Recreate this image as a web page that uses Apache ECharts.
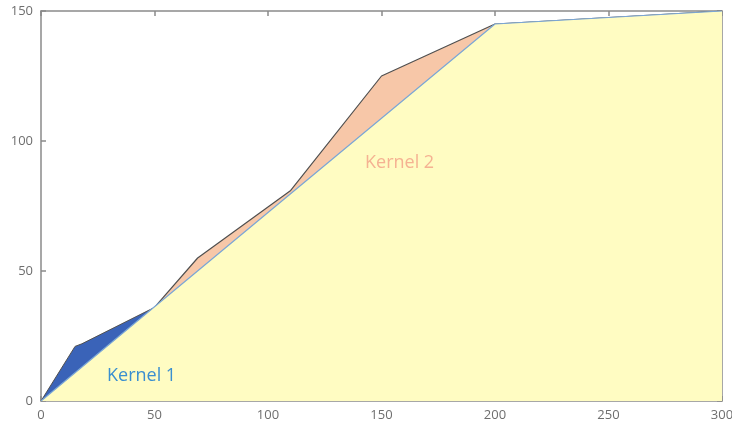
<!DOCTYPE html>
<html>
<head>
<meta charset="utf-8">
<script src="https://cdn.jsdelivr.net/npm/echarts@6/dist/echarts.min.js"></script>
<style>
  html, body { margin: 0; padding: 0; background: #fff; }
  #chart { width: 732px; height: 427px; }
</style>
</head>
<body>
<div id="chart"></div>
<script>
// upper boundary, kernel 1 part
const kernel1X = [0, 15, 18, 50];
const kernel1Y = [0, 21, 22, 36];
// upper boundary, kernel 2 part
const kernel2X = [50, 69, 110, 150, 200, 300];
const kernel2Y = [36, 55, 81, 125, 145, 150];
// lower (straight) boundary
const baseX = [0, 200, 300];
const baseY = [0, 145, 150];

const xTicks = [0, 50, 100, 150, 200, 250, 300];
const yTicks = [0, 50, 100, 150];

const pairs = (xs, ys) => xs.map((x, i) => [x, ys[i]]);

const axisGray = "#8a8a8a";
const labelGray = "#6e6e6e";

const chart = echarts.init(document.getElementById("chart"));

const xCommon = {
  type: "value",
  min: xTicks[0],
  max: xTicks[xTicks.length - 1],
  interval: 50,
  splitLine: { show: false },
  axisLine: { show: true, onZero: false, lineStyle: { color: axisGray, width: 1.5 } },
  axisTick: { show: true, inside: true, length: 5, lineStyle: { color: axisGray, width: 1.5 } }
};
const yCommon = {
  type: "value",
  min: yTicks[0],
  max: yTicks[yTicks.length - 1],
  interval: 50,
  splitLine: { show: false },
  axisLine: { show: true, onZero: false, lineStyle: { color: axisGray, width: 1.5 } },
  axisTick: { show: true, inside: true, length: 5, lineStyle: { color: axisGray, width: 1.5 } }
};

chart.setOption({
  animation: false,
  grid: { left: 41, right: 10, top: 11, bottom: 26, outerBoundsMode: "none", containLabel: false },
  xAxis: [
    Object.assign({}, xCommon, {
      position: "bottom",
      axisLabel: { color: labelGray, fontSize: 13, fontFamily: "Open Sans", margin: 8 }
    }),
    Object.assign({}, xCommon, { position: "top", axisLabel: { show: false } })
  ],
  yAxis: [
    Object.assign({}, yCommon, {
      position: "left",
      axisLabel: { color: labelGray, fontSize: 13, fontFamily: "Open Sans", margin: 8 }
    }),
    Object.assign({}, yCommon, { position: "right", axisLabel: { show: false } })
  ],
  series: [
    {
      name: "Kernel 1",
      type: "line",
      data: pairs(kernel1X, kernel1Y),
      symbol: "none",
      lineStyle: { color: "#505050", width: 1 },
      areaStyle: { color: "#3a63b8", opacity: 1, origin: "start" },
      z: 2
    },
    {
      name: "Kernel 2",
      type: "line",
      data: pairs(kernel2X, kernel2Y),
      symbol: "none",
      lineStyle: { color: "#505050", width: 1.2 },
      areaStyle: { color: "#f7c7a8", opacity: 1, origin: "start" },
      z: 2
    },
    {
      name: "Base",
      type: "line",
      data: pairs(baseX, baseY),
      symbol: "none",
      lineStyle: { color: "#7aa6d6", width: 1.2 },
      areaStyle: { color: "#fffcc2", opacity: 1, origin: "start" },
      z: 3
    }
  ],
  graphic: [
    {
      type: "text",
      left: 107,
      top: 367,
      z: 10,
      style: { text: "Kernel 1", fill: "#3a8fd0", fontSize: 18, fontFamily: "Open Sans" }
    },
    {
      type: "text",
      left: 365,
      top: 154,
      z: 10,
      style: { text: "Kernel 2", fill: "#f5b292", fontSize: 18, fontFamily: "Open Sans" }
    }
  ]
});
</script>
</body>
</html>
